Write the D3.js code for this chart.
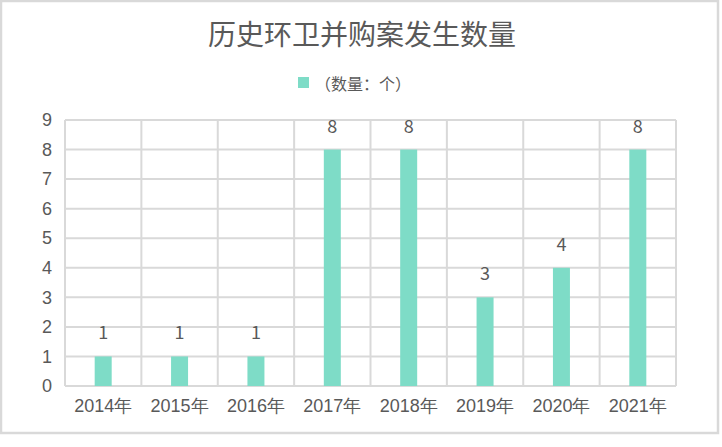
<!DOCTYPE html>
<html>
<head>
<meta charset="utf-8">
<script src="https://cdn.jsdelivr.net/npm/d3@7"></script>
<style>
  html, body { margin: 0; padding: 0; background: #fff; }
  svg { display: block; font-family: "Noto Sans CJK SC", "Microsoft YaHei", sans-serif; }
</style>
</head>
<body>
<div id="grafica"></div>
<script>
// --- datos
const years = ['2014年', '2015年', '2016年', '2017年', '2018年', '2019年', '2020年', '2021年']
const counts = [1, 1, 1, 8, 8, 3, 4, 8]
const yTicks = [0, 1, 2, 3, 4, 5, 6, 7, 8, 9]
const titulo = '历史环卫并购案发生数量'
const leyenda = '（数量：个）'

const width = 722, height = 447
const margin = { top: 120, right: 46, bottom: 61, left: 65 }
const textColor = '#595959'
const gridColor = '#d9d9d9'
const barColor = '#7edcc7'

const svg = d3.select('#grafica')
  .append('svg')
  .attr('width', width)
  .attr('height', height)

// marco exterior
svg.append('rect')
  .attr('x', 1).attr('y', 1)
  .attr('width', 717).attr('height', 432)
  .attr('fill', 'none')
  .attr('stroke', gridColor)
  .attr('stroke-width', 2.5)

const x = d3.scaleBand()
  .domain(years)
  .range([margin.left, width - margin.right])

const y = d3.scaleLinear()
  .domain([0, 9])
  .range([height - margin.bottom, margin.top])

// rejilla horizontal
svg.append('g')
  .selectAll('line')
  .data(yTicks)
  .enter()
  .append('line')
  .attr('x1', margin.left).attr('x2', width - margin.right)
  .attr('y1', d => y(d)).attr('y2', d => y(d))
  .attr('stroke', gridColor)
  .attr('stroke-width', 2)

// rejilla vertical (limites de categoria)
const bordes = years.map(d => x(d)).concat([x(years[years.length - 1]) + x.bandwidth()])
svg.append('g')
  .selectAll('line')
  .data(bordes)
  .enter()
  .append('line')
  .attr('x1', d => d).attr('x2', d => d)
  .attr('y1', y(9)).attr('y2', y(0))
  .attr('stroke', gridColor)
  .attr('stroke-width', 2)

// eje y
const yAxis = svg.append('g')
  .attr('transform', `translate(${margin.left},0)`)
  .call(d3.axisLeft(y).tickValues(yTicks).tickSize(0).tickPadding(13))
yAxis.select('.domain').remove()
yAxis.selectAll('text')
  .attr('fill', textColor)
  .style('font-size', '18px')

// eje x
const xAxis = svg.append('g')
  .attr('transform', `translate(0,${y(0)})`)
  .call(d3.axisBottom(x).tickSize(0).tickPadding(13))
xAxis.select('.domain').remove()
xAxis.selectAll('text')
  .attr('fill', textColor)
  .style('font-size', '18px')

// barras
const barW = 17
svg.append('g')
  .selectAll('rect')
  .data(counts)
  .enter()
  .append('rect')
  .attr('x', (d, i) => x(years[i]) + x.bandwidth() / 2 - barW / 2)
  .attr('y', d => y(d))
  .attr('width', barW)
  .attr('height', d => y(0) - y(d))
  .attr('fill', barColor)

// etiquetas de valor
svg.append('g')
  .selectAll('text')
  .data(counts)
  .enter()
  .append('text')
  .attr('x', (d, i) => x(years[i]) + x.bandwidth() / 2)
  .attr('y', d => y(d) - 17)
  .attr('text-anchor', 'middle')
  .attr('fill', textColor)
  .style('font-size', '18px')
  .text(d => d)

// titulo
svg.append('text')
  .attr('x', 362)
  .attr('y', 45)
  .attr('text-anchor', 'middle')
  .attr('fill', textColor)
  .style('font-size', '28px')
  .text(titulo)

// leyenda
svg.append('rect')
  .attr('x', 298).attr('y', 77)
  .attr('width', 11).attr('height', 11)
  .attr('fill', barColor)
svg.append('text')
  .attr('x', 315)
  .attr('y', 90)
  .attr('fill', textColor)
  .style('font-size', '16px')
  .text(leyenda)
</script>
</body>
</html>
